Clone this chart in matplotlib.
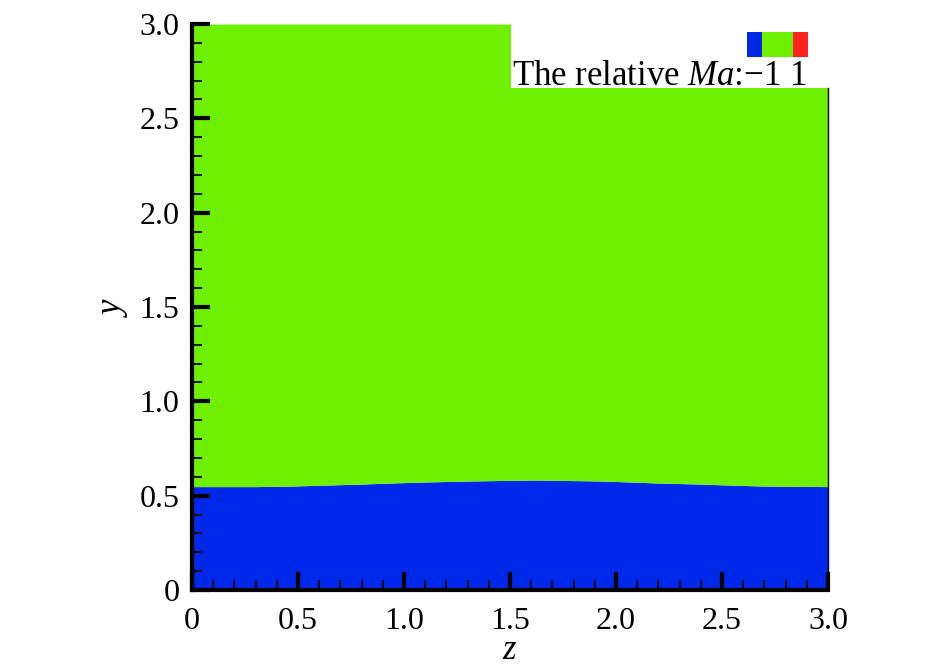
import numpy as np
import matplotlib
matplotlib.use("Agg")
import matplotlib.pyplot as plt
from matplotlib.patches import Rectangle
from matplotlib.ticker import MultipleLocator

# Data: interface between subsonic (blue, relative Ma = -1) and supersonic (green, 1) regions
z_vals = [0.0, 0.30, 0.47, 0.63, 0.81, 0.94, 1.08, 1.32, 1.61, 1.92, 2.08, 2.20, 2.38, 2.54, 2.70, 3.0]
y_interface = [0.548, 0.548, 0.551, 0.556, 0.562, 0.567, 0.572, 0.578, 0.583, 0.578, 0.572, 0.567, 0.562, 0.556, 0.551, 0.548]
y_top = 3.0
x_ticks = [0, 0.5, 1.0, 1.5, 2.0, 2.5, 3.0]
x_ticklabels = ["0", "0.5", "1.0", "1.5", "2.0", "2.5", "3.0"]
y_ticks = [0, 0.5, 1.0, 1.5, 2.0, 2.5, 3.0]
y_ticklabels = ["0", "0.5", "1.0", "1.5", "2.0", "2.5", "3.0"]
legend_colors = ["#0028e8", "#6ef000", "#ff2020"]
legend_widths = [1, 2, 1]

plt.rcParams['font.family'] = ['Liberation Serif', 'DejaVu Serif']
plt.rcParams['mathtext.fontset'] = 'custom'
plt.rcParams['mathtext.rm'] = 'Liberation Serif'
plt.rcParams['mathtext.it'] = 'Liberation Serif:italic'

fig = plt.figure(figsize=(9.45, 6.69), dpi=100)
ax = fig.add_axes([192/945, 1-590/669, 636/945, 566/669])

z = np.array(z_vals)
yi = np.array(y_interface)
ax.fill_between(z, 0, yi, color="#0028e8", linewidth=0, zorder=1)
ax.fill_between(z, yi, y_top, color="#6ef000", linewidth=0, zorder=1)

ax.set_xlim(0, 3.0)
ax.set_ylim(0, 3.0)

ax.set_xticks(x_ticks)
ax.set_xticklabels(x_ticklabels)
ax.set_yticks(y_ticks)
ax.set_yticklabels(y_ticklabels)
ax.xaxis.set_minor_locator(MultipleLocator(0.1))
ax.yaxis.set_minor_locator(MultipleLocator(0.1))
ax.tick_params(which='major', direction='in', length=13, width=3, labelsize=23, color='black')
ax.tick_params(axis='y', which='major', pad=9)
ax.tick_params(axis='x', which='major', pad=12)
ax.tick_params(which='minor', direction='in', length=7, width=1.3, color='black')

ax.spines['top'].set_visible(False)
ax.spines['left'].set_linewidth(3)
ax.spines['bottom'].set_linewidth(3)
ax.spines['right'].set_linewidth(1)
ax.spines['right'].set_bounds(0, 2.66)
for s in ax.spines.values():
    s.set_zorder(5)

ax.set_xlabel("$z$", fontsize=25, labelpad=-1)
ax.set_ylabel("$y$", fontsize=25, labelpad=7)

# white legend panel
ax.add_patch(Rectangle((1.505, 2.66), 1.52, 0.36, transform=ax.transData,
                       facecolor='white', edgecolor='none', zorder=3, clip_on=False))

# color bar swatches (pixel -> figure coords)
x0 = 747
total = 808 - 747
unit = total / sum(legend_widths)
for c, w in zip(legend_colors, legend_widths):
    fig.patches.append(Rectangle((x0/945, 1-57/669), unit*w/945, 25/669,
                                 transform=fig.transFigure, facecolor=c,
                                 edgecolor='none', zorder=6))
    x0 += unit*w

fig.text(512/945, 1-85/669, "The relative $Ma$:\u22121 1", fontsize=25,
         ha='left', va='baseline', zorder=7)

fig.savefig("out.png", dpi=100, facecolor='white')
